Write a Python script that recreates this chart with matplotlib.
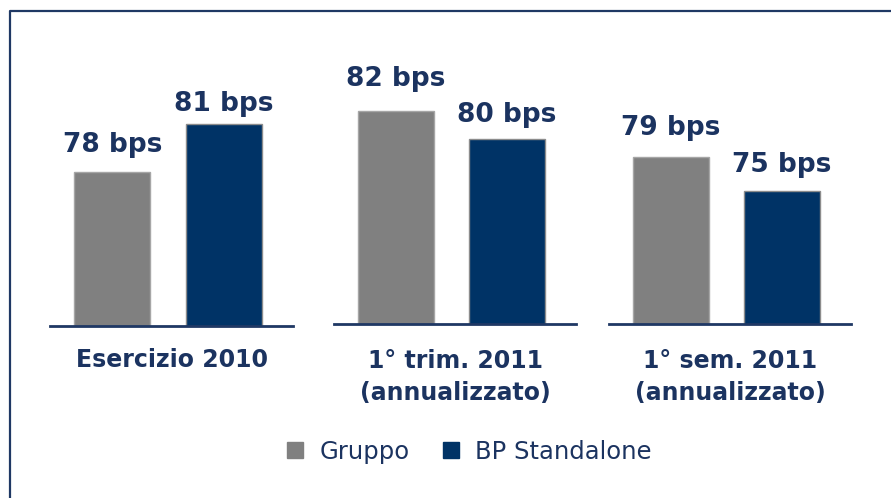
import matplotlib
matplotlib.use("Agg")
import matplotlib.pyplot as plt
from matplotlib.lines import Line2D

# ---- data ----
categories = ["Esercizio 2010", "1° trim. 2011\n(annualizzato)", "1° sem. 2011\n(annualizzato)"]
series_names = ["Gruppo", "BP Standalone"]
gruppo = [78, 82, 79]
bp_standalone = [81, 80, 75]
unit = "bps"

# ---- style / layout ----
W, H = 891, 498
DPI = 100
col_gray = "#808080"
col_navy = "#003366"
col_text = "#1B3360"
col_line = "#1F3864"

# per-group axes in pixels: (left, right, baseline_y)
ax_px = [(50, 293, 325.5), (334, 576, 323.7), (609, 851, 323.7)]
top_px = 20
# per-group y ranges (each panel has its own scale)
ylims = [(68.41, 87.5), (66.8, 88.49), (59.4, 95.13)]
label_gap_px = [[20, 13], [25, 17], [22, 19]]
first_baseline_px = 367
line_step_px = 33

fig = plt.figure(figsize=(W / DPI, H / DPI), dpi=DPI)
fig.patch.set_facecolor("white")

xlim = (-62 / 111, 1 + 69 / 111)
bar_w = 76 / 111

for i, cat in enumerate(categories):
    l, r, base = ax_px[i]
    ax = fig.add_axes([l / W, (H - base) / H, (r - l) / W, (base - top_px) / H])
    ax.set_xlim(*xlim)
    ax.set_ylim(*ylims[i])
    vals = [gruppo[i], bp_standalone[i]]
    cols = [col_gray, col_navy]
    edges = ["#A6A6A6", "#8C8C8C"]
    for j in range(2):
        ax.bar(j, vals[j], width=bar_w, color=cols[j], edgecolor=edges[j], linewidth=1.0, zorder=1)
        ax.annotate(f"{vals[j]} {unit}", xy=(j, vals[j]), xytext=(0, label_gap_px[i][j] * 72 / DPI),
                    textcoords="offset points", ha="center", va="baseline",
                    fontsize=19, fontweight="bold", color=col_text)
    for s in ["top", "right", "left"]:
        ax.spines[s].set_visible(False)
    ax.spines["bottom"].set_color(col_line)
    ax.spines["bottom"].set_linewidth(2)
    ax.set_xticks([])
    ax.set_yticks([])
    ax.patch.set_alpha(0)
    nlines = cat.count("\n") + 1
    last_baseline = first_baseline_px + line_step_px * (nlines - 1)
    fig.text(((l + r) / 2) / W, (H - last_baseline) / H, cat,
             ha="center", va="baseline", fontsize=17, fontweight="bold",
             color=col_text, linespacing=1.42)

# legend
handles = [Line2D([], [], linestyle="none", marker="s", markersize=11, markerfacecolor=c,
                  markeredgecolor=c) for c in [col_gray, col_navy]]
leg = fig.legend(handles, series_names, loc="center", bbox_to_anchor=(467.5 / W, (H - 452) / H),
                 ncol=2, frameon=False, fontsize=17.5, handlelength=1.0, handletextpad=0.5,
                 columnspacing=1.2)
for t in leg.get_texts():
    t.set_color(col_text)

# frame
fig.add_artist(Line2D([9.5 / W, 9.5 / W, 1.0], [0.0, (H - 11.5) / H, (H - 11.5) / H],
                      transform=fig.transFigure, color=col_line, linewidth=1.6))

fig.savefig("out.png", dpi=DPI, facecolor="white")
